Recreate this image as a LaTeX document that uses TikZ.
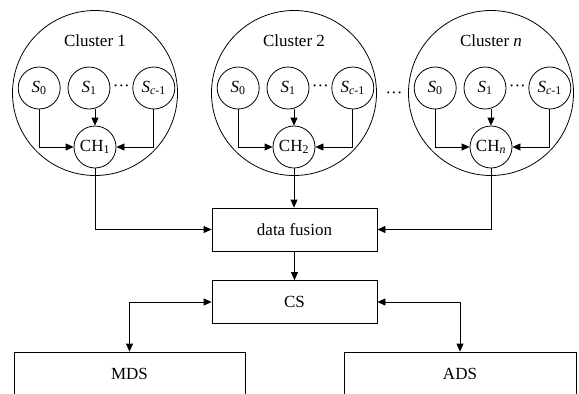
\documentclass[tikz,border=0pt]{standalone}
\usepackage{fontspec}
\setmainfont{Liberation Serif}
\usetikzlibrary{positioning,arrows.meta}

\begin{document}
\begin{tikzpicture}
		[x = 1pt, y = -1pt, >={Triangle[length=8pt,width=7pt]},
		font = \fontsize{17}{20}\selectfont, line width = 0.8pt,
		sensor/.style = {draw, circle, inner sep=0pt, minimum size=42pt},
		cluster/.style = {draw, circle, minimum size=165pt},
		unit/.style = {draw, rectangle, minimum width=165pt, minimum height=43pt}]
	\useasboundingbox (0, 0) rectangle (579, 394);
	\clip (0, 0) rectangle (579, 394);
	\foreach \cx/\k/\lab in {95/1/1, 294/2/2, 491/n/\textit{n}}
	{
		\node[cluster] (cl\k) at (\cx, 93) {};
		\node (lab\k) at (\cx, 41) {Cluster \lab};
		\node[sensor] (sb\k) at (\cx-6, 88) {\textit{S}\textsubscript{1}};
		\node[sensor, left = 7pt of sb\k] (sa\k) {\textit{S}\textsubscript{0}};
		\node[sensor, right = 22pt of sb\k] (sc\k) {\textit{S}\textsubscript{\textit{c}-1}};
		\path (sb\k) -- (sc\k) node[midway, inner sep=0pt] (dt\k) {···};
		\node[sensor] (ch\k) at (\cx, 147) {CH\textsubscript{\lab}};
		\draw[->] (sa\k) |- (ch\k);
		\draw[->] (sc\k) |- (ch\k);
		\draw[->] (ch\k.north |- sb\k.south) -- (ch\k);
	}
	\node[inner sep=0pt] (dots) at (394, 95) {···};
	\node[unit] (fusion) at (294.5, 229.5) {data fusion};
	\node[unit] (cs) at (294.5, 302) {CS};
	\node[unit, minimum width=231pt] (mds) at (129.5, 373.5) {MDS};
	\node[unit, minimum width=232pt] (ads) at (460, 373.5) {ADS};
	\draw[->] (ch1) |- (fusion);
	\draw[->] (ch2) -- (ch2 |- fusion.north);
	\draw[->] (chn) |- (fusion);
	\draw[->] (fusion) -- (cs);
	\draw[<->] (cs) -| (mds);
	\draw[<->] (cs) -| (ads);
\end{tikzpicture}
\end{document}
